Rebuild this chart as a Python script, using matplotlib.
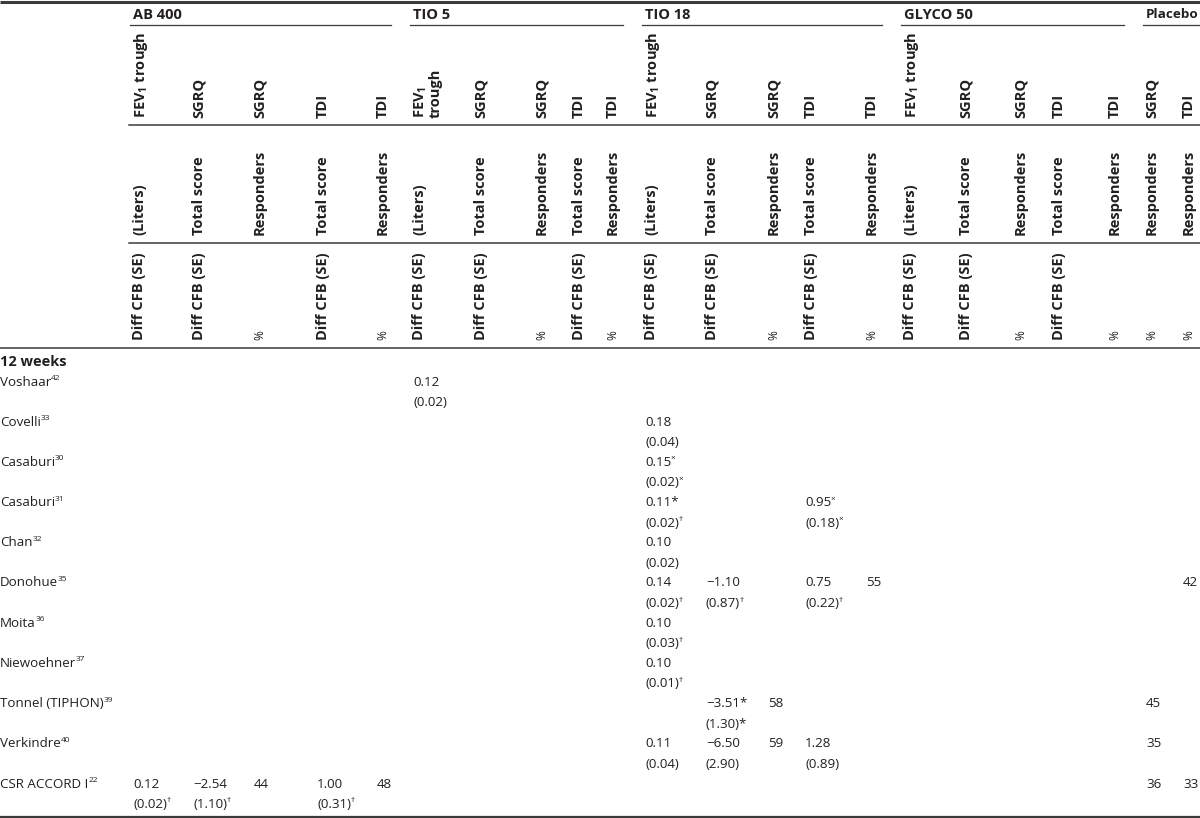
import matplotlib
matplotlib.use('Agg')
import matplotlib.pyplot as plt

plt.rcParams['font.family'] = ['Open Sans', 'DejaVu Sans']
plt.rcParams['mathtext.fontset'] = 'custom'
plt.rcParams['mathtext.rm'] = 'Open Sans'
plt.rcParams['mathtext.bf'] = 'Open Sans:bold'

ink = '#231f20'
rule = '#3a3a3a'
fs = 9.6       # body text
fsb = 10.5     # bold header text

# table content
groups = ["AB 400", "TIO 5", "TIO 18", "GLYCO 50", "Placebo"]
group_size = [5, 5, 5, 5, 2]
measures = (["FEV$_\\mathbf{1}$ trough", "SGRQ", "SGRQ", "TDI", "TDI"]
            + ["FEV$_\\mathbf{1}$\ntrough", "SGRQ", "SGRQ", "TDI", "TDI"]
            + ["FEV$_\\mathbf{1}$ trough", "SGRQ", "SGRQ", "TDI", "TDI"] * 2
            + ["SGRQ", "TDI"])
units = ["(Liters)", "Total score", "Responders", "Total score", "Responders"] * 4 + ["Responders", "Responders"]
stats = ["Diff CFB (SE)", "Diff CFB (SE)", "%", "Diff CFB (SE)", "%"] * 4 + ["%", "%"]

period = "12 weeks"
studies = ["Voshaar^42", "Covelli^33", "Casaburi^30", "Casaburi^31", "Chan^32", "Donohue^35",
           "Moita^36", "Niewoehner^37", "Tonnel (TIPHON)^39", "Verkindre^40", "CSR ACCORD I^22"]

# cells: column index -> value, or (value, SE)
cells = [
    {5: ("0.12", "(0.02)")},
    {10: ("0.18", "(0.04)")},
    {10: ("0.15^×", "(0.02)^×")},
    {10: ("0.11*", "(0.02)^†"), 13: ("0.95^×", "(0.18)^×")},
    {10: ("0.10", "(0.02)")},
    {10: ("0.14", "(0.02)^†"), 11: ("−1.10", "(0.87)^†"), 13: ("0.75", "(0.22)^†"), 14: "55", 21: "42"},
    {10: ("0.10", "(0.03)^†")},
    {10: ("0.10", "(0.01)^†")},
    {11: ("−3.51*", "(1.30)*"), 12: "58", 20: "45"},
    {10: ("0.11", "(0.04)"), 11: ("−6.50", "(2.90)"), 12: "59", 13: ("1.28", "(0.89)"), 20: "35"},
    {0: ("0.12", "(0.02)^†"), 1: ("−2.54", "(1.10)^†"), 2: "44", 3: ("1.00", "(0.31)^†"), 4: "48",
     20: "36", 21: "33"},
]

# layout (pixel grid)
col_x = [133, 193, 254, 317, 377,
         413, 475, 536, 573, 607,
         645, 706, 768, 805, 866,
         904, 960, 1015, 1053, 1109,
         1146, 1183]

fig = plt.figure(figsize=(12, 8.18), dpi=100)
ax = fig.add_axes([0, 0, 1, 1])
ax.set_xlim(0, 1200)
ax.set_ylim(818, 0)
ax.axis('off')
renderer = fig.canvas.get_renderer()


def put(x, y, s, **kw):
    main, _, sup = s.partition('^')
    t = ax.text(x, y, main, ha='left', va='center', fontsize=fs, color=ink, **kw)
    if sup:
        bb = t.get_window_extent(renderer)
        x1 = ax.transData.inverted().transform((bb.x1, bb.y1))[0]
        ax.text(x1 - 0.3, y - 3.5, sup, ha='left', va='center', fontsize=fs * 0.62, color=ink)


# rules
ax.plot([0, 1200], [1.5, 1.5], color=rule, lw=2.2, solid_capstyle='butt')
ax.plot([0, 1200], [348, 348], color=rule, lw=1.1)
ax.plot([0, 1200], [817, 817], color=rule, lw=1.6)
for yy in [125, 243]:
    ax.plot([129, 1200], [yy, yy], color=rule, lw=1.1)

start = 0
for g, n in zip(groups, group_size):
    x0 = col_x[start]
    x1 = col_x[start + n] - 22 if start + n < len(col_x) else 1200
    t = ax.text(x0, 15, g, ha='left', va='center', fontsize=fsb, fontweight='bold', color=ink)
    # shrink the last header a touch so it stays inside the figure
    size = fsb
    while ax.transData.inverted().transform(t.get_window_extent(renderer).p1)[0] > 1199 and size > 8:
        size -= 0.2
        t.set_fontsize(size)
    ax.plot([x0 - 3, x1], [25, 25], color=rule, lw=0.9)
    start += n

for i, x in enumerate(col_x):
    ax.text(x - 1, 118, measures[i], rotation=90, ha='left', va='bottom',
            fontsize=fsb, fontweight='bold', color=ink, linespacing=0.95)
    ax.text(x - 1, 235, units[i], rotation=90, ha='left', va='bottom',
            fontsize=fsb, fontweight='bold', color=ink)
    if stats[i] == "%":
        ax.text(x - 1, 340, "%", rotation=90, ha='left', va='bottom', fontsize=fs - 1, color=ink)
    else:
        ax.text(x - 1, 340, stats[i], rotation=90, ha='left', va='bottom',
                fontsize=fsb, fontweight='bold', color=ink)

ax.text(0, 362, period, ha='left', va='center', fontsize=fsb, fontweight='bold', color=ink)

row_y0 = 382
row_step = 40.2
for r, name in enumerate(studies):
    y = row_y0 + r * row_step
    put(0, y, name)
    for c, v in cells[r].items():
        if isinstance(v, tuple):
            put(col_x[c], y, v[0])
            put(col_x[c], y + 20.5, v[1])
        else:
            put(col_x[c], y, v)

fig.savefig('out.png', dpi=100, facecolor='white')
